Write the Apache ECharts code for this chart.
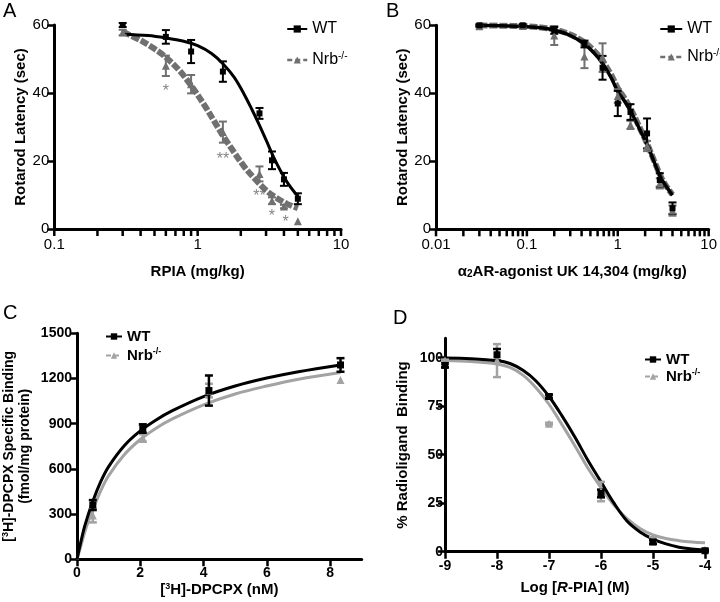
<!DOCTYPE html>
<html><head><meta charset="utf-8">
<script src="https://cdn.jsdelivr.net/npm/echarts@6/dist/echarts.min.js"></script>
<style>html,body{margin:0;padding:0;background:#fff}#c{width:720px;height:602px}</style>
</head><body><div id="c"></div>
<script>
// ---------- Panel A: RPIA (mg/kg) ----------
const aDoseWT = [0.3, 0.6, 0.9, 1.5, 2.7, 3.3, 4.0, 5.0];
const aMeanWT = [60, 56.5, 52.2, 46.3, 34, 20.2, 14.6, 8.9];
const aSemWT  = [0.6, 2, 3.4, 3, 1.6, 2.6, 1.9, 1.6];
const aDoseNrb = [0.3, 0.6, 0.9, 1.5, 2.7, 3.3, 4.0, 5.0];
const aMeanNrb = [57.8, 48, 42.6, 28.5, 16.2, 8.3, 6.6, 2.3];
const aSemNrb  = [0.8, 3, 2.7, 3.1, 2.2, 1.0, 0.5, 0];
const aFitX_WT = [0.3, 0.45, 0.6, 0.8, 1.0, 1.25, 1.5, 1.8, 2.1, 2.4, 2.7, 3.0, 3.4, 3.8, 4.3, 5.0];
const aFitY_WT = [57.3, 56.9, 56.2, 55.2, 53.9, 51.6, 48.6, 44.6, 39.8, 35.0, 30.5, 26.2, 21.0, 17.0, 13.2, 9.6];
const aFitX_Nrb = [0.3, 0.4, 0.5, 0.6, 0.75, 0.9, 1.1, 1.3, 1.5, 1.8, 2.1, 2.5, 3.0, 3.5, 4.2, 5.0];
const aFitY_Nrb = [58, 55.5, 53, 50.5, 46.5, 42.2, 36.8, 31.8, 27.5, 22.5, 18.5, 14.8, 11.4, 9.3, 7.4, 6.1];
const aSigX = [0.6, 1.5, 2.7, 3.3, 4.1];
const aSigY = [40.5, 20.5, 9.5, 3.6, 1.8];
const aSigText = ['*', '**', '**', '*', '*'];

// ---------- Panel B: alpha2AR-agonist UK 14,304 (mg/kg) ----------
const bDose = [0.03, 0.09, 0.2, 0.43, 0.68, 1.0, 1.38, 2.1, 2.9, 4.0];
const bMeanWT = [60, 60, 58.5, 54.5, 47.5, 37, 34.5, 28.2, 14.5, 6.2];
const bSemWT  = [0.3, 0.3, 1, 1, 3.5, 3.7, 2.3, 4.4, 2, 1.7];
const bMeanNrb = [59.7, 59.8, 57, 50.8, 50.5, 39.2, 30.7, 24.5, 13.5, 5.5];
const bSemNrb  = [0.3, 0.3, 2.8, 3.4, 4.2, 2, 1.2, 1.5, 1.5, 1.5];
const bFitX = [0.03, 0.05, 0.1, 0.15, 0.2, 0.3, 0.43, 0.55, 0.68, 0.85, 1.0, 1.2, 1.4, 1.7, 2.1, 2.5, 3.0, 3.5, 4.0];
const bFitY_WT  = [60, 59.9, 59.6, 59.2, 58.6, 57.0, 54.5, 51.8, 48.8, 44.5, 40.5, 37.5, 34.5, 30.0, 25.0, 20.0, 15.0, 12.2, 10.0];
const bFitY_Nrb = [60, 59.9, 59.7, 59.3, 58.8, 57.3, 55.0, 52.5, 49.5, 45.3, 41.5, 38.3, 35.2, 30.5, 25.2, 20.3, 15.3, 12.3, 10.2];

// ---------- Panel C: [3H]-DPCPX saturation binding ----------
const cConc = [0.5, 2.08, 4.17, 8.33];
const cMeanWT = [360, 868, 1120, 1290];
const cSemWT  = [33, 28, 100, 45];
const cMeanNrb = [290, 805, 1120, 1190];
const cSemNrb  = [45, 25, 45, 0];
const cFitX = [0, 0.1, 0.25, 0.5, 0.75, 1.0, 1.5, 2.0, 2.5, 3.0, 4.0, 5.0, 6.0, 7.0, 8.33];
const cFitY_WT  = [0, 95, 225, 385, 515, 615, 755, 852, 925, 985, 1080, 1150, 1203, 1245, 1290];
const cFitY_Nrb = [0, 72, 185, 330, 455, 555, 695, 795, 870, 930, 1025, 1097, 1150, 1195, 1240];

// ---------- Panel D: R-PIA competition ----------
const dLog = [-9, -8, -7, -6, -5, -4];
const dMeanWT = [96, 101.5, 80, 30, 5, 0.5];
const dSemWT  = [1, 3, 1, 2, 1, 0.5];
const dMeanNrb = [98.5, 98.5, 66, 31, 6.5, 1];
const dSemNrb  = [0.5, 8.5, 0.5, 5, 1, 0.5];
const dFitX = [-9, -8.5, -8, -7.75, -7.5, -7.25, -7, -6.75, -6.5, -6.25, -6, -5.75, -5.5, -5.25, -5, -4.75, -4.5, -4.25, -4];
const dFitY_WT  = [99.8, 99.5, 98.5, 97, 93.5, 88, 80, 70, 59, 47, 36, 25, 15.8, 10.2, 6.5, 4, 2.3, 1.4, 0.8];
const dFitY_Nrb = [98.5, 98, 96.8, 95, 91, 84.5, 76, 65.5, 54.5, 43, 33, 24, 17, 12, 8.7, 6.8, 5.7, 5.0, 4.6];

// ---------- tick lists ----------
const aXTicks = [0.1,0.2,0.3,0.4,0.5,0.6,0.7,0.8,0.9,1,2,3,4,5,6,7,8,9,10];
const bXTicks = [0.01,0.02,0.03,0.04,0.05,0.06,0.07,0.08,0.09,0.1,0.2,0.3,0.4,0.5,0.6,0.7,0.8,0.9,1,2,3,4,5,6,7,8,9,10];
const cXTicks = [0, 2, 4, 6, 8];
const dYTicks = [0, 25, 50, 75, 100];

const FONT = 'Liberation Sans, Arial, Helvetica, sans-serif';
const BLACK = '#000';
const TICKC = '#000';
const GRAY_AB = '#707070';
const GRAY_CD = '#a3a3a3';
const TICK_LEN = 7;

function pairs(xs, ys) { return xs.map((x, i) => [x, ys[i]]); }
function errData(xs, ys, es) { return xs.map((x, i) => [x, ys[i] - es[i], ys[i] + es[i]]); }
function errSeries(idx, xs, ys, es, color, cap, lw) {
  return {
    type: 'custom', xAxisIndex: idx, yAxisIndex: idx, silent: true, z: 4,
    data: errData(xs, ys, es), encode: { x: 0, y: [1, 2] },
    renderItem: function (params, api) {
      const x = api.value(0), lo = api.value(1), hi = api.value(2);
      if (hi - lo <= 0) return null;
      const p1 = api.coord([x, hi]), p2 = api.coord([x, lo]);
      const st = { stroke: color, lineWidth: lw };
      return { type: 'group', children: [
        { type: 'line', shape: { x1: p1[0], y1: p1[1], x2: p2[0], y2: p2[1] }, style: st },
        { type: 'line', shape: { x1: p1[0] - cap, y1: p1[1], x2: p1[0] + cap, y2: p1[1] }, style: st },
        { type: 'line', shape: { x1: p2[0] - cap, y1: p2[1], x2: p2[0] + cap, y2: p2[1] }, style: st }
      ]};
    }
  };
}
// tick marks under a log x axis, positioned through the axis scale
function logTickSeries(idx, ticks) {
  return {
    type: 'custom', xAxisIndex: idx, yAxisIndex: idx, silent: true, z: 6, clip: false,
    data: ticks.map(v => [v, 0]), encode: { x: 0, y: 1 },
    renderItem: function (params, api) {
      const p = api.coord([api.value(0), 0]);
      return { type: 'line', shape: { x1: p[0], y1: p[1], x2: p[0], y2: p[1] + TICK_LEN }, style: { stroke: TICKC, lineWidth: 2.5 } };
    }
  };
}
function pointSeries(idx, xs, ys, symbol, size, color) {
  return { type: 'scatter', xAxisIndex: idx, yAxisIndex: idx, data: pairs(xs, ys), symbol: symbol,
    symbolSize: size, itemStyle: { color: color, opacity: 1 }, z: 5, silent: true };
}
function curveSeries(name, idx, xs, ys, color, width, dash, symbol) {
  return { name: name, type: 'line', xAxisIndex: idx, yAxisIndex: idx, data: pairs(xs, ys), smooth: 0.35,
    symbol: symbol, showSymbol: false, symbolSize: 8, itemStyle: { color: color },
    lineStyle: { color: color, width: width, type: dash || 'solid', cap: 'butt' }, z: 3, silent: true };
}

const axisLineStyle = { lineStyle: { color: BLACK, width: 3 }, onZero: false };
const tickStyle = { lineStyle: { color: TICKC, width: 2.5 } };
const plain = v => String(v);

function legendFmt(name) { return name.indexOf('WT') >= 0 ? '{n|WT}' : '{n|Nrb}{s|-/-}'; }
function legendRich(size, weight) {
  return { n: { fontSize: size, fontWeight: weight, fontFamily: FONT, color: BLACK, lineHeight: size + 2 },
           s: { fontSize: Math.round(size * 0.62), fontWeight: weight, fontFamily: FONT, color: BLACK, verticalAlign: 'top', lineHeight: 10 } };
}

const chart = echarts.init(document.getElementById('c'), null, { renderer: 'canvas' });
const option = {
  backgroundColor: '#fff',
  animation: false,
  title: [
    { text: 'A', left: 3, top: 1, padding: 0, textStyle: { fontSize: 20, fontWeight: 'normal', fontFamily: FONT, color: BLACK } },
    { text: 'B', left: 386, top: 1, padding: 0, textStyle: { fontSize: 20, fontWeight: 'normal', fontFamily: FONT, color: BLACK } },
    { text: 'C', left: 3, top: 303, padding: 0, textStyle: { fontSize: 20, fontWeight: 'normal', fontFamily: FONT, color: BLACK } },
    { text: 'D', left: 393, top: 308, padding: 0, textStyle: { fontSize: 20, fontWeight: 'normal', fontFamily: FONT, color: BLACK } }
  ],
  grid: [
    { left: 54.3, top: 25, width: 286.7, height: 204 },
    { left: 436, top: 25.3, width: 276.7, height: 204 },
    { left: 76.7, top: 333.3, width: 285, height: 226 },
    { left: 445, top: 338.3, width: 260, height: 213.4 }
  ],
  legend: [
    { data: ['aWT', { name: 'aNrb', lineStyle: { type: [5, 3], width: 2.5 } }], left: 281, top: 16, orient: 'vertical', itemWidth: 20, itemHeight: 9, itemGap: 14,
      formatter: legendFmt, textStyle: { rich: legendRich(16, 'normal') }, selectedMode: false },
    { data: ['bWT', { name: 'bNrb', lineStyle: { type: [5, 3], width: 2.5 } }], left: 654, top: 16, orient: 'vertical', itemWidth: 22, itemHeight: 9, itemGap: 11,
      formatter: legendFmt, textStyle: { rich: legendRich(16, 'normal') }, selectedMode: false },
    { data: [{ name: 'cWT' }, { name: 'cNrb', lineStyle: { type: [5, 3], width: 2 } }], left: 100, top: 324, orient: 'vertical', itemWidth: 16, itemHeight: 8, itemGap: 3,
      formatter: legendFmt, textStyle: { rich: legendRich(15, 'bold') }, selectedMode: false },
    { data: [{ name: 'dWT' }, { name: 'dNrb', lineStyle: { type: [5, 3], width: 2 } }], left: 639, top: 347, orient: 'vertical', itemWidth: 16, itemHeight: 8, itemGap: 1,
      formatter: legendFmt, textStyle: { rich: legendRich(15, 'bold') }, selectedMode: false }
  ],
  xAxis: [
    { type: 'log', logBase: 10, gridIndex: 0, min: 0.1, max: 10, axisLine: axisLineStyle,
      axisTick: { show: false },
      axisLabel: { formatter: v => String(+(+v).toPrecision(3)), fontSize: 15, color: BLACK, fontFamily: FONT, margin: 8 },
      splitLine: { show: false }, minorTick: { show: false },
      name: 'RPIA (mg/kg)', nameLocation: 'middle', nameGap: 35,
      nameTextStyle: { fontSize: 15, fontWeight: 'bold', fontFamily: FONT, color: BLACK } },
    { type: 'log', logBase: 10, gridIndex: 1, min: 0.01, max: 10, axisLine: axisLineStyle,
      axisTick: { show: false },
      axisLabel: { formatter: v => String(+(+v).toPrecision(3)), fontSize: 15, color: BLACK, fontFamily: FONT, margin: 8 },
      splitLine: { show: false }, minorTick: { show: false },
      name: '{a|α}{sub|2}{b|AR-agonist UK 14,304 (mg/kg)}', nameLocation: 'middle', nameGap: 35,
      nameTextStyle: { fontSize: 15, fontWeight: 'bold', fontFamily: FONT, color: BLACK,
        rich: { a: { fontSize: 15, fontFamily: FONT, color: BLACK },
                sub: { fontSize: 10, fontWeight: 'bold', fontFamily: FONT, color: BLACK, verticalAlign: 'bottom', lineHeight: 10 },
                b: { fontSize: 15, fontWeight: 'bold', fontFamily: FONT, color: BLACK } } } },
    { type: 'value', gridIndex: 2, min: 0, max: 9, axisLine: axisLineStyle,
      axisTick: { show: true, customValues: cXTicks, length: TICK_LEN, ...tickStyle },
      axisLabel: { customValues: cXTicks, formatter: plain, fontSize: 14, fontWeight: 'bold', color: BLACK, fontFamily: FONT, margin: 7 },
      splitLine: { show: false },
      name: '[{sup|3}H]-DPCPX (nM)', nameLocation: 'middle', nameGap: 23,
      nameTextStyle: { fontSize: 15, fontWeight: 'bold', fontFamily: FONT, color: BLACK,
        rich: { sup: { fontSize: 9, fontWeight: 'bold', fontFamily: FONT, color: BLACK, verticalAlign: 'top', lineHeight: 9 } } } },
    { type: 'value', gridIndex: 3, min: -9, max: -4, interval: 1, axisLine: axisLineStyle,
      axisTick: { show: true, length: TICK_LEN, ...tickStyle },
      axisLabel: { formatter: plain, fontSize: 14, fontWeight: 'bold', color: BLACK, fontFamily: FONT, margin: 7 },
      splitLine: { show: false },
      name: 'Log [{i|R}-PIA] (M)', nameLocation: 'middle', nameGap: 29,
      nameTextStyle: { fontSize: 15, fontWeight: 'bold', fontFamily: FONT, color: BLACK,
        rich: { i: { fontSize: 15, fontWeight: 'bold', fontStyle: 'italic', fontFamily: FONT, color: BLACK } } } }
  ],
  yAxis: [
    { type: 'value', gridIndex: 0, min: 0, max: 60, interval: 20, axisLine: { show: true, ...axisLineStyle },
      axisTick: { show: true, length: TICK_LEN, ...tickStyle },
      axisLabel: { formatter: plain, fontSize: 15, color: BLACK, fontFamily: FONT, margin: 5 }, splitLine: { show: false },
      name: 'Rotarod Latency (sec)', nameLocation: 'middle', nameGap: 22,
      nameTextStyle: { fontSize: 15, fontWeight: 'bold', fontFamily: FONT, color: BLACK } },
    { type: 'value', gridIndex: 1, min: 0, max: 60, interval: 20, axisLine: { show: true, ...axisLineStyle },
      axisTick: { show: true, length: TICK_LEN, ...tickStyle },
      axisLabel: { formatter: plain, fontSize: 15, color: BLACK, fontFamily: FONT, margin: 5 }, splitLine: { show: false },
      name: 'Rotarod Latency (sec)', nameLocation: 'middle', nameGap: 26,
      nameTextStyle: { fontSize: 15, fontWeight: 'bold', fontFamily: FONT, color: BLACK } },
    { type: 'value', gridIndex: 2, min: 0, max: 1500, interval: 300, axisLine: { show: true, ...axisLineStyle },
      axisTick: { show: true, length: TICK_LEN, ...tickStyle },
      axisLabel: { formatter: plain, fontSize: 14, fontWeight: 'bold', color: BLACK, fontFamily: FONT, margin: 5 }, splitLine: { show: false },
      name: '[{sup|3}H]-DPCPX Specific Binding\n(fmol/mg protein)', nameLocation: 'middle', nameGap: 44,
      nameTextStyle: { fontSize: 14, fontWeight: 'bold', fontFamily: FONT, color: BLACK, lineHeight: 16,
        rich: { sup: { fontSize: 9, fontWeight: 'bold', fontFamily: FONT, color: BLACK, verticalAlign: 'top', lineHeight: 9 } } } },
    { type: 'value', gridIndex: 3, min: 0, max: 110, axisLine: { show: true, ...axisLineStyle },
      axisTick: { show: true, customValues: dYTicks, length: TICK_LEN, ...tickStyle },
      axisLabel: { customValues: dYTicks, formatter: plain, fontSize: 14, fontWeight: 'bold', color: BLACK, fontFamily: FONT, margin: 2 }, splitLine: { show: false },
      name: '% Radioligand  Binding', nameLocation: 'middle', nameGap: 35,
      nameTextStyle: { fontSize: 15, fontWeight: 'bold', fontFamily: FONT, color: BLACK } }
  ],
  series: [
    logTickSeries(0, aXTicks),
    curveSeries('aNrb', 0, aFitX_Nrb, aFitY_Nrb, GRAY_AB, 6, [8, 2], 'triangle'),
    curveSeries('aWT', 0, aFitX_WT, aFitY_WT, BLACK, 3, null, 'rect'),
    errSeries(0, aDoseNrb, aMeanNrb, aSemNrb, GRAY_AB, 4, 2),
    errSeries(0, aDoseWT, aMeanWT, aSemWT, BLACK, 4, 2),
    pointSeries(0, aDoseNrb, aMeanNrb, 'triangle', 8, GRAY_AB),
    pointSeries(0, aDoseWT, aMeanWT, 'rect', 6, BLACK),
    { type: 'scatter', xAxisIndex: 0, yAxisIndex: 0, symbolSize: 1, itemStyle: { color: 'rgba(255,255,255,0)' }, silent: true, z: 6,
      data: aSigX.map((x, i) => ({ value: [x, aSigY[i]], label: { formatter: aSigText[i] } })),
      label: { show: true, position: 'inside', fontSize: 16, color: '#666', fontFamily: FONT } },
    logTickSeries(1, bXTicks),
    curveSeries('bNrb', 1, bFitX, bFitY_Nrb, GRAY_AB, 6, [8, 2], 'triangle'),
    curveSeries('bWT', 1, bFitX, bFitY_WT, BLACK, 3.5, null, 'rect'),
    errSeries(1, bDose, bMeanNrb, bSemNrb, GRAY_AB, 4, 2),
    errSeries(1, bDose, bMeanWT, bSemWT, BLACK, 4, 2),
    pointSeries(1, bDose, bMeanNrb, 'triangle', 8, GRAY_AB),
    pointSeries(1, bDose, bMeanWT, 'rect', 6, BLACK),
    curveSeries('cNrb', 2, cFitX, cFitY_Nrb, GRAY_CD, 3, null, 'triangle'),
    curveSeries('cWT', 2, cFitX, cFitY_WT, BLACK, 3, null, 'rect'),
    errSeries(2, cConc, cMeanNrb, cSemNrb, GRAY_CD, 4, 2.5),
    errSeries(2, cConc, cMeanWT, cSemWT, BLACK, 4, 2.5),
    pointSeries(2, cConc, cMeanNrb, 'triangle', 8, GRAY_CD),
    pointSeries(2, cConc, cMeanWT, 'rect', 7, BLACK),
    curveSeries('dNrb', 3, dFitX, dFitY_Nrb, GRAY_CD, 3, null, 'triangle'),
    curveSeries('dWT', 3, dFitX, dFitY_WT, BLACK, 3, null, 'rect'),
    errSeries(3, dLog, dMeanNrb, dSemNrb, GRAY_CD, 4, 2.5),
    errSeries(3, dLog, dMeanWT, dSemWT, BLACK, 4, 2.5),
    pointSeries(3, dLog, dMeanNrb, 'triangle', 8, GRAY_CD),
    pointSeries(3, dLog, dMeanWT, 'rect', 7, BLACK)
  ]
};
chart.setOption(option);
</script>
</body></html>
